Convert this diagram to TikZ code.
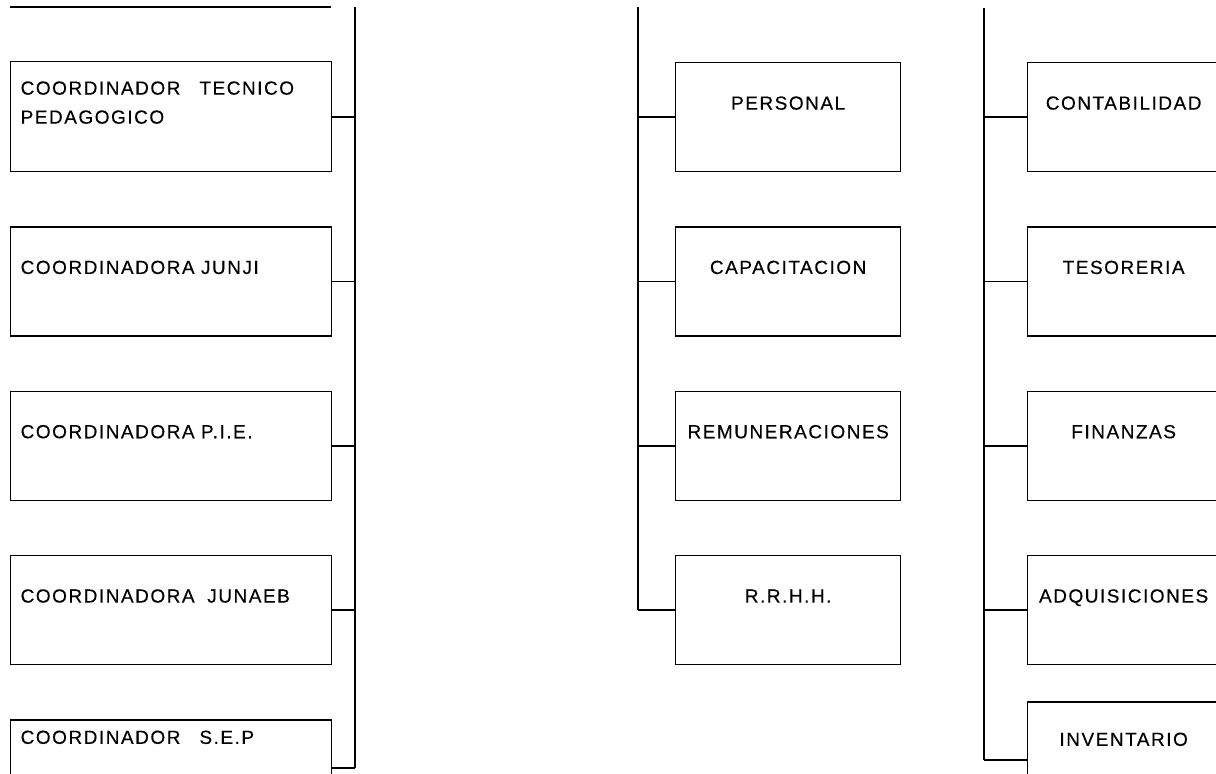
\documentclass[tikz,border=0pt]{standalone}
\usepackage{fontspec}
\newfontfamily\orgfont{Liberation Sans}[LetterSpace=8, FakeBold=0.3]
\usetikzlibrary{positioning}
\tikzset{
  box/.style      = {shape=rectangle, draw, line width=1.3pt,
                     inner ysep=0pt, inner xsep=10pt,
                     text height=47pt, text depth=62pt,
                     font=\orgfont\fontsize{19}{29}\selectfont},
  leftbox/.style  = {box, text width=301pt, align=left},
  midbox/.style   = {box, text width=205pt, align=center},
  rightbox/.style = {box, text width=172pt, align=center},
  trunk/.style    = {line width=2pt},
  link/.style     = {line width=1.8pt}
}

\begin{document}
\begin{tikzpicture}[x=1pt, y=1pt, node distance=54pt]
  \useasboundingbox (0,0) rectangle (1216,-774);
  \draw[line width=1.3pt] (10,-7) -- (331,-7);
  % left column
  \coordinate (ltop) at (355,-7);
  \coordinate (lbot) at (355,-768);
  \node [leftbox, anchor=north west, text height=33pt, text depth=77pt] (tec) at (10,-61) {COORDINADOR~~~TECNICO\\PEDAGOGICO};
  \node [leftbox] (junji) [below=of tec] {COORDINADORA JUNJI};
  \node [leftbox] (pie) [below=of junji] {COORDINADORA P.I.E.};
  \node [leftbox] (junaeb) [below=of pie] {COORDINADORA~~JUNAEB};
  \node [leftbox, text height=24pt, text depth=80pt] (sep) [below=of junaeb] {COORDINADOR~~~S.E.P};
  \draw[trunk] (ltop) -- (lbot);
  \path[link] (tec) edge (tec -| ltop);
  \path[link] (junji) edge (junji -| ltop);
  \path[link] (pie) edge (pie -| ltop);
  \path[link] (junaeb) edge (junaeb -| ltop);
  \path[link] (lbot) edge (lbot -| sep.east);
  % middle column
  \coordinate (mtop) at (638,-7);
  \node [midbox, anchor=north west] (pers) at (675,-62) {PERSONAL};
  \node [midbox] (capa) [below=of pers] {CAPACITACION};
  \node [midbox] (remu) [below=of capa] {REMUNERACIONES};
  \node [midbox] (rrhh) [below=of remu] {R.R.H.H.};
  \draw[trunk] (mtop) -- (mtop |- rrhh);
  \path[link] (pers) edge (pers -| mtop);
  \path[link] (capa) edge (capa -| mtop);
  \path[link] (remu) edge (remu -| mtop);
  \path[link] (rrhh) edge (rrhh -| mtop);
  % right column
  \coordinate (rtop) at (984,-8);
  \coordinate (rbot) at (984,-760);
  \node [rightbox, anchor=north west] (conta) at (1027,-62) {CONTABILIDAD};
  \node [rightbox] (teso) [below=of conta] {TESORERIA};
  \node [rightbox] (fin) [below=of teso] {FINANZAS};
  \node [rightbox] (adq) [below=of fin] {ADQUISICIONES};
  \node [rightbox, text height=44pt, text depth=80pt] (inv) [below=36pt of adq] {INVENTARIO};
  \draw[trunk] (rtop) -- (rbot);
  \path[link] (conta) edge (conta -| rtop);
  \path[link] (teso) edge (teso -| rtop);
  \path[link] (fin) edge (fin -| rtop);
  \path[link] (adq) edge (adq -| rtop);
  \path[link] (rbot) edge (rbot -| inv.west);
\end{tikzpicture}
\end{document}
